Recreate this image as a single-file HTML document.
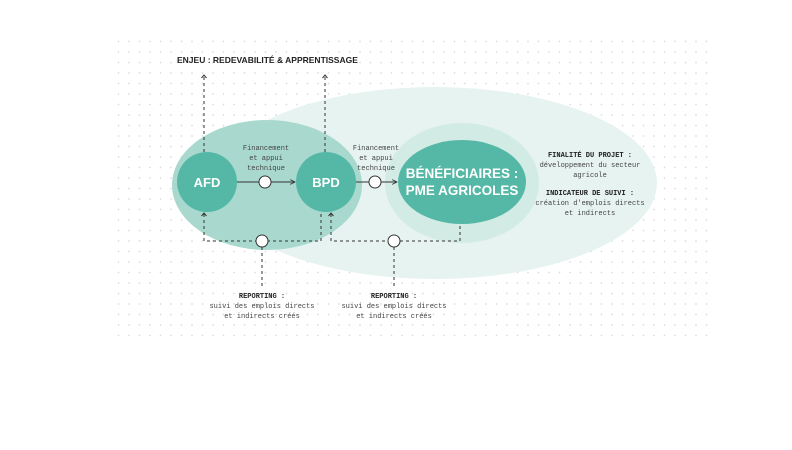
<!DOCTYPE html>
<html><head><meta charset="utf-8"><style>
body{margin:0;width:792px;height:450px;background:#fff;overflow:hidden}
svg{display:block}
.m{font-family:"Liberation Mono",monospace;font-size:7px;fill:#444}
.b{font-family:"Liberation Sans",sans-serif;font-weight:bold;fill:#222}
</style></head><body>
<svg width="792" height="450" viewBox="0 0 792 450" xmlns="http://www.w3.org/2000/svg">
<defs>
<pattern id="g" x="117" y="40" width="10.5" height="10.5" patternUnits="userSpaceOnUse">
<path d="M1.5 0.5V2.5M0.5 1.5H2.5" stroke="#d6d6d6" stroke-width="0.6"/>
</pattern>
<marker id="ar" viewBox="0 0 10 10" refX="9" refY="5" markerWidth="6" markerHeight="6" orient="auto"><path d="M1 1L9 5L1 9" fill="none" stroke="#333" stroke-width="1.5"/></marker>
</defs>
<rect x="115" y="38" width="598" height="298" fill="url(#g)"/>
<ellipse cx="435" cy="183" rx="222" ry="96" fill="#e7f3f0"/>
<ellipse cx="462" cy="183" rx="77" ry="60" fill="#d3ebe5"/>
<ellipse cx="267" cy="185" rx="95" ry="65" fill="#a9d9ce"/>
<circle cx="207" cy="182" r="30" fill="#55b8a6"/>
<circle cx="326" cy="182" r="30" fill="#55b8a6"/>
<ellipse cx="462" cy="182" rx="64" ry="42" fill="#55b8a6"/>
<text x="207" y="187" text-anchor="middle" class="b" style="fill:#fff;font-size:13px">AFD</text>
<text x="326" y="187" text-anchor="middle" class="b" style="fill:#fff;font-size:13px">BPD</text>
<text x="462" y="178" text-anchor="middle" class="b" style="fill:#fff;font-size:13.5px">BÉNÉFICIAIRES :</text>
<text x="462" y="195" text-anchor="middle" class="b" style="fill:#fff;font-size:13.5px">PME AGRICOLES</text>
<text x="177" y="63" class="b" style="font-size:8.5px">ENJEU : REDEVABILITÉ &amp; APPRENTISSAGE</text>
<g stroke="#333" stroke-width="1" fill="none">
<line x1="237" y1="182" x2="295" y2="182" marker-end="url(#ar)"/>
<line x1="356" y1="182" x2="397" y2="182" marker-end="url(#ar)"/>
<g stroke-dasharray="3,3">
<line x1="204" y1="152" x2="204" y2="76"/>
<line x1="325" y1="152" x2="325" y2="76"/>
<path d="M204 214V241H321V212"/>
<path d="M331 214V241H460V225"/>
<line x1="262" y1="247" x2="262" y2="286"/>
<line x1="394" y1="247" x2="394" y2="286"/>
</g>
<path d="M201.5 78L204 75L206.5 78M322.5 78L325 75L327.5 78M201.5 216L204 213L206.5 216M328.5 216L331 213L333.5 216"/>
</g>
<g fill="#fff" stroke="#333" stroke-width="1">
<circle cx="265" cy="182" r="6"/><circle cx="375" cy="182" r="6"/>
<circle cx="262" cy="241" r="6"/><circle cx="394" cy="241" r="6"/>
</g>
<g class="m" text-anchor="middle">
<text x="266" y="150">Financement</text><text x="266" y="160">et appui</text><text x="266" y="170">technique</text>
<text x="376" y="150">Financement</text><text x="376" y="160">et appui</text><text x="376" y="170">technique</text>
<text x="262" y="298" style="font-weight:bold;fill:#222">REPORTING :</text>
<text x="262" y="308">suivi des emplois directs</text><text x="262" y="318">et indirects créés</text>
<text x="394" y="298" style="font-weight:bold;fill:#222">REPORTING :</text>
<text x="394" y="308">suivi des emplois directs</text><text x="394" y="318">et indirects créés</text>
<text x="590" y="157" style="font-weight:bold;fill:#222">FINALITÉ DU PROJET :</text>
<text x="590" y="167">développement du secteur</text><text x="590" y="177">agricole</text>
<text x="590" y="195" style="font-weight:bold;fill:#222">INDICATEUR DE SUIVI :</text>
<text x="590" y="205">création d'emplois directs</text><text x="590" y="215">et indirects</text>
</g>
</svg>
</body></html>
